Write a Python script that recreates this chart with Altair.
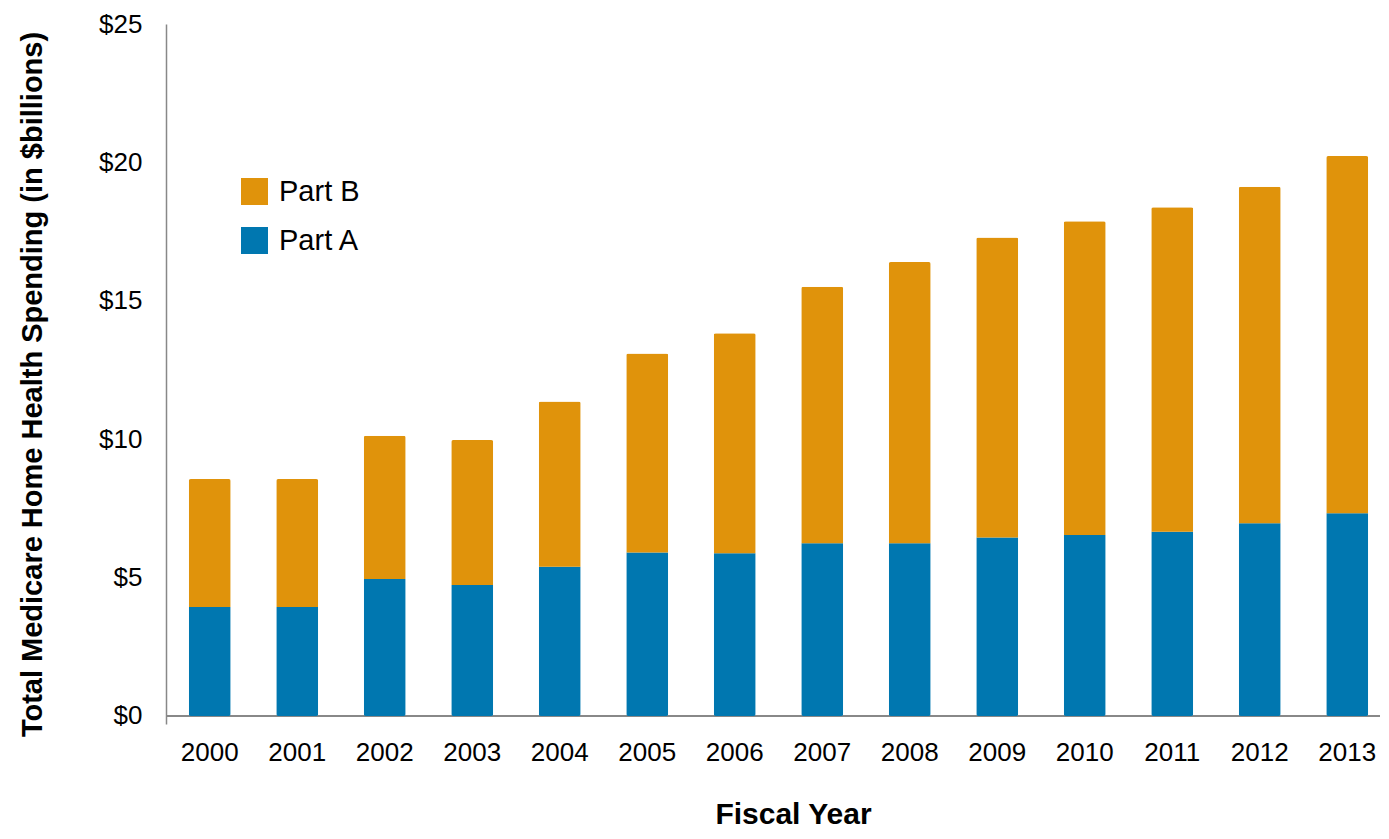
import altair as alt
import pandas as pd

years = ["2000", "2001", "2002", "2003", "2004", "2005", "2006",
         "2007", "2008", "2009", "2010", "2011", "2012", "2013"]
part_a = [3.94, 3.94, 4.95, 4.73, 5.39, 5.91, 5.88, 6.24, 6.24, 6.45, 6.54, 6.66, 6.96, 7.32]
part_b = [4.62, 4.62, 5.17, 5.24, 5.97, 7.19, 7.95, 9.27, 10.16, 10.84, 11.33, 11.72, 12.16, 12.91]
series = ["Part B", "Part A"]
colors = ["#E0930B", "#0077B0"]
y_ticks = [0, 5, 10, 15, 20, 25]

rows = []
for i, yr in enumerate(years):
    rows.append({"year": yr, "part": "Part A", "value": part_a[i], "ord": 0})
    rows.append({"year": yr, "part": "Part B", "value": part_b[i], "ord": 1})
df = pd.DataFrame(rows)

FONT = "Liberation Sans"

bars = alt.Chart(df).mark_bar(cornerRadius=2).encode(
    x=alt.X("year:N", sort=years,
            scale=alt.Scale(paddingInner=0.52, paddingOuter=0.26, range=[0, 1225]),
            axis=alt.Axis(title="Fiscal Year", labelAngle=0, domain=False, ticks=False,
                          labelFontSize=26, labelPadding=15, labelColor="#000",
                          titleFontSize=30, titleFontWeight="bold", titleColor="#000",
                          titleX=627, titleY=90, titleBaseline="middle", titleAnchor="middle")),
    y=alt.Y("value:Q", stack="zero",
            scale=alt.Scale(domain=[-0.29, 25], nice=False, zero=False),
            axis=alt.Axis(title="Total Medicare Home Health Spending (in $billions)",
                          values=y_ticks, labelExpr="'$' + datum.value",
                          ticks=False, grid=False, domainColor="#888888", domainWidth=1.5,
                          labelFontSize=26, labelPadding=24, labelColor="#000",
                          titleFontSize=29, titleFontWeight="bold", titleColor="#000",
                          titleX=-134, titleY=360, titleAngle=270, titleBaseline="middle")),
    color=alt.Color("part:N", scale=alt.Scale(domain=series, range=colors),
                    legend=alt.Legend(title=None, orient="none", legendX=74, legendY=153,
                                      symbolType="square", symbolSize=729, symbolStrokeWidth=0,
                                      labelFontSize=29, labelOffset=10, rowPadding=19,
                                      padding=0, labelColor="#000")),
    order=alt.Order("ord:Q", sort="ascending"),
)

baseline = alt.Chart(df).mark_rule(color="#888888", strokeWidth=1.5).encode(
    y=alt.Y(datum=0)
)

chart = alt.layer(baseline, bars).properties(
    width=1214, height=700,
    autosize=alt.AutoSizeParams(type="none"),
    padding={"left": 158, "top": 16, "right": 0, "bottom": 107},
).configure(
    font=FONT,
).configure_view(stroke=None)

chart.save("out.html", embed_options={"renderer": "svg", "actions": False})
